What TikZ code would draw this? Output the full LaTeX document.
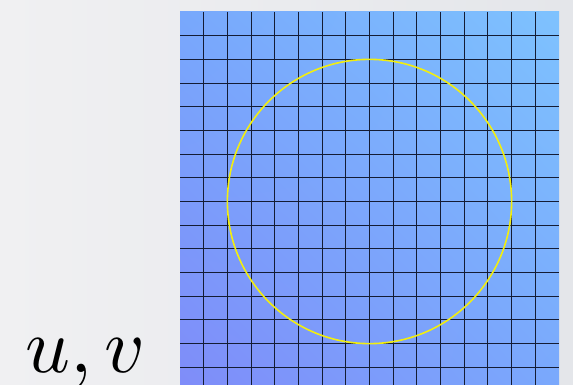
\documentclass[tikz,border=0pt]{standalone}
\usepackage{graphicx}
\usetikzlibrary{shadings}
\begin{document}
\begin{tikzpicture}[x=1pt,y=-1pt]
\definecolor{bgL}{HTML}{F0F0F2}
\definecolor{bgR}{HTML}{E4E6EA}
\definecolor{cUL}{HTML}{78A8FC}
\definecolor{cUR}{HTML}{7EC2FE}
\definecolor{cLL}{HTML}{7F8CF9}
\definecolor{cLR}{HTML}{7AA8FC}
\definecolor{gridc}{HTML}{141C34}
\definecolor{circc}{HTML}{F2EE10}
\tikzset{gridline/.style={draw=gridc,line width=1.1pt},
  ringline/.style={draw=circc,line width=1.6pt},
  label/.style={inner sep=0pt,anchor=base west}}
\useasboundingbox (0,0) rectangle (573,385);
\shade[left color=bgL,right color=bgR] (0,0) rectangle (573,385);
\begin{scope}
\clip (0,0) rectangle (573,385);
\shade[upper left=cUL,upper right=cUR,lower left=cLL,lower right=cLR] (180,12) rectangle (559,391);
\foreach \i in {1,...,15} {
  \draw[gridline] ({180+\i*379/16},12) -- ({180+\i*379/16},391);
  \draw[gridline] (180,{12+\i*379/16}) -- (559,{12+\i*379/16});
}
\draw[ringline] (369.5,201.5) circle ({6*379/16});
\end{scope}
\node[label] (uv) at (25,372) {\scalebox{7.85}{$u,v$}};
\end{tikzpicture}
\end{document}
